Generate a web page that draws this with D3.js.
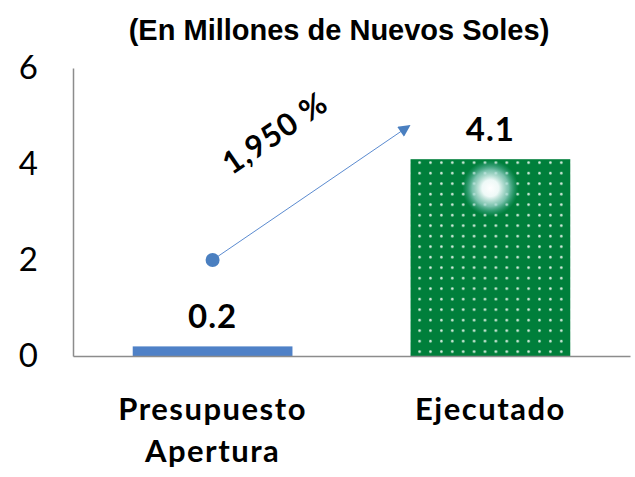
<!DOCTYPE html>
<html>
<head>
<meta charset="utf-8">
<script src="https://cdn.jsdelivr.net/npm/d3@7"></script>
<style>
  body { margin: 0; background: #fff; }
</style>
</head>
<body>
<script>
// chart data
const categories = ["Presupuesto Apertura", "Ejecutado"];
const values = [0.2, 4.1];
const valueLabels = ["0.2", "4.1"];
const yTicks = [0, 2, 4, 6];
const arrowFrom = [0, 2];   // [category index, value]
const arrowTo = [1, 4.8];
const growthLabel = "1,950 %";
const title = "(En Millones de Nuevos Soles)";

const w = 635;
const h = 477;
const padLeft = 73, padRight = 630, padTop = 68, padBottom = 356;

const svg = d3.select("body").append("svg").attr("width", w).attr("height", h);

const xScale = d3.scaleBand().domain(categories).range([padLeft, padRight]).paddingInner(0.425).paddingOuter(0.215);
const yScale = d3.scaleLinear().domain([0, 6]).range([padBottom, padTop]);

// pattern for the second bar
const defs = svg.append("defs");
const pat = defs.append("pattern")
  .attr("id", "dots").attr("patternUnits", "userSpaceOnUse")
  .attr("width", 10.9).attr("height", 10.5);
pat.append("rect").attr("width", 10.9).attr("height", 10.5).attr("fill", "#007f3b");
pat.append("circle").attr("cx", 5.4).attr("cy", 5.2).attr("r", 1.3).attr("fill", "#d8efe0");

const glow = defs.append("radialGradient").attr("id", "glow");
glow.append("stop").attr("offset", "0%").attr("stop-color", "#ffffff").attr("stop-opacity", 1);
glow.append("stop").attr("offset", "30%").attr("stop-color", "#eef9f7").attr("stop-opacity", 1);
glow.append("stop").attr("offset", "65%").attr("stop-color", "#9fd6cf").attr("stop-opacity", 0.75);
glow.append("stop").attr("offset", "100%").attr("stop-color", "#4fb3a6").attr("stop-opacity", 0);

svg.append("text")
  .attr("x", 339).attr("y", 40)
  .attr("text-anchor", "middle")
  .style("font-family", "Liberation Sans, Arial, sans-serif")
  .style("font-weight", "bold").style("font-size", "29px")
  .text(title);

// bars
svg.selectAll("rect.bar")
  .data(values)
  .enter()
  .append("rect")
  .attr("class", "bar")
  .attr("x", (d, i) => xScale(categories[i]))
  .attr("y", (d) => yScale(d))
  .attr("width", xScale.bandwidth())
  .attr("height", (d) => padBottom - yScale(d))
  .attr("fill", (d, i) => (i === 0 ? "#4f81c7" : "url(#dots)"));

// glow on the green bar
svg.append("circle")
  .attr("cx", xScale(categories[1]) + xScale.bandwidth() / 2)
  .attr("cy", yScale(values[1]) + 29)
  .attr("r", 28)
  .attr("fill", "url(#glow)");

// value labels
svg.selectAll("text.val")
  .data(valueLabels)
  .enter()
  .append("text")
  .attr("class", "val")
  .attr("x", (d, i) => xScale(categories[i]) + xScale.bandwidth() / 2)
  .attr("y", (d, i) => yScale(values[i]) - 18)
  .attr("text-anchor", "middle")
  .style("font-family", "Lato, sans-serif")
  .style("font-weight", "bold").style("font-size", "33px")
  .style("letter-spacing", "1px")
  .text((d) => d);

// axes
const yAxis = d3.axisLeft(yScale).tickValues(yTicks).tickSize(0).tickPadding(35).tickFormat(d3.format("d"));
const gy = svg.append("g").attr("transform", "translate(" + padLeft + ",0)").call(yAxis);
gy.select(".domain").attr("stroke", "#8c8c8c").attr("stroke-width", 1.5);
gy.selectAll("text")
  .style("font-family", "Lato, sans-serif").style("font-size", "33px").attr("fill", "#000");

const gx = svg.append("g").attr("transform", "translate(0," + padBottom + ")")
  .call(d3.axisBottom(xScale).tickSize(0).tickFormat(""));
gx.select(".domain").attr("stroke", "#8c8c8c").attr("stroke-width", 1.5);

// category labels, wrapped on two lines
categories.forEach(function (c, i) {
  const words = c === "Presupuesto Apertura" ? ["Presupuesto", "Apertura"] : [c];
  words.forEach(function (wd, j) {
    svg.append("text")
      .attr("x", xScale(c) + xScale.bandwidth() / 2)
      .attr("y", 420 + j * 42)
      .attr("text-anchor", "middle")
      .style("font-family", "Lato, sans-serif")
      .style("font-weight", "bold").style("font-size", "31px")
      .style("letter-spacing", "1.5px")
      .text(wd);
  });
});

// growth arrow
defs.append("marker")
  .attr("id", "arrowhead").attr("viewBox", "0 0 10 10")
  .attr("refX", 9).attr("refY", 5)
  .attr("markerWidth", 14).attr("markerHeight", 12)
  .attr("markerUnits", "userSpaceOnUse")
  .attr("orient", "auto")
  .append("path").attr("d", "M0,0 L10,5 L0,10 z").attr("fill", "#4a7fc0");

const x1 = xScale(categories[arrowFrom[0]]) + xScale.bandwidth() / 2;
const y1 = yScale(arrowFrom[1]);
const x2 = xScale(categories[arrowTo[0]]) - 1;
const y2 = yScale(arrowTo[1]);

svg.append("line")
  .attr("x1", x1).attr("y1", y1).attr("x2", x2).attr("y2", y2)
  .attr("stroke", "#5b8bd0").attr("stroke-width", 1)
  .attr("marker-end", "url(#arrowhead)");
svg.append("circle").attr("cx", x1).attr("cy", y1).attr("r", 7).attr("fill", "#4a7fc0");

const angle = Math.atan2(y2 - y1, x2 - x1) * 180 / Math.PI;
svg.append("text")
  .attr("transform", "translate(281,142) rotate(" + angle + ")")
  .attr("text-anchor", "middle")
  .style("font-family", "Lato, sans-serif")
  .style("font-weight", "bold").style("font-size", "31px")
  .style("letter-spacing", "1px")
  .text(growthLabel);
</script>
</body>
</html>
